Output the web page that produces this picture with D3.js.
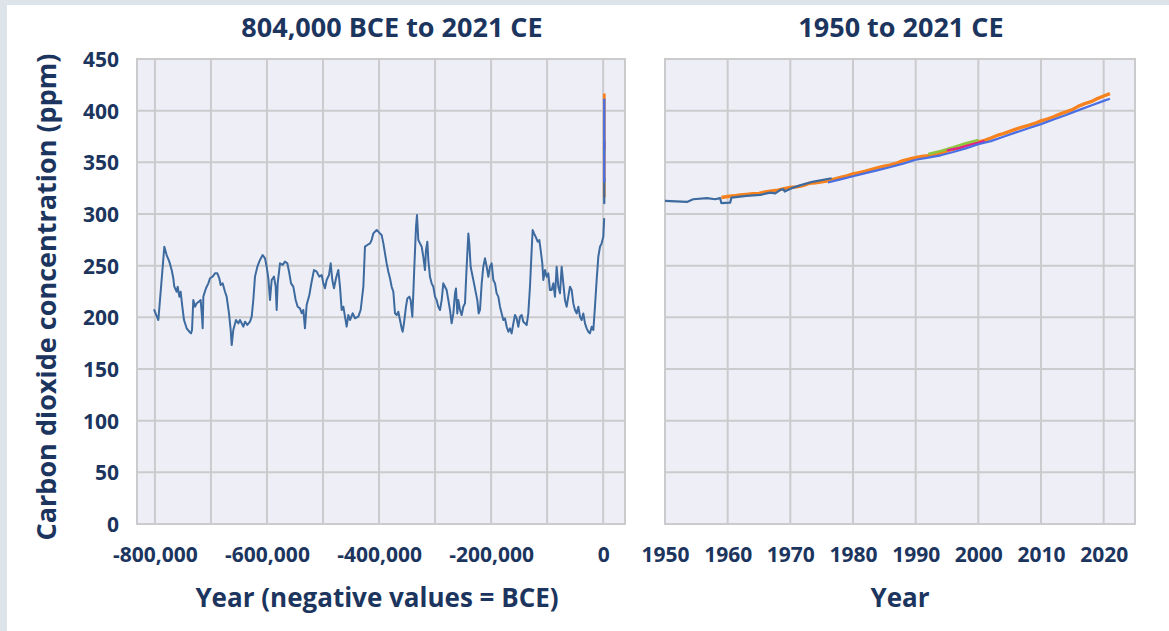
<!DOCTYPE html>
<html>
<head>
<meta charset="utf-8">
<script src="https://cdn.jsdelivr.net/npm/d3@7"></script>
<style>
  body { margin: 0; background: #dde4e9; }
  svg text { font-family: "Open Sans", sans-serif; font-weight: 700; fill: #1c355e; }
</style>
</head>
<body>
<svg id="chart" width="1169" height="631"></svg>
<script>
// ice core record, 804,000 BCE to pre-industrial (years, ppm)
var iceYears = [
  -801700, -793900, -783200, -779100, -774300, -770100, -767200, -765400, -761200, -759400,
  -756400, -754100, -751100, -748100, -743400, -738600, -735600, -733800, -731500, -728500,
  -725500, -721300, -718400, -716000, -714800, -713600, -708900, -704700, -701700, -697000,
  -692800, -688600, -685100, -682700, -679100, -674900, -672000, -667800, -664800, -663000,
  -660100, -655300, -651100, -648200, -642200, -639200, -635100, -630300, -627300, -624400,
  -621400, -617200, -612500, -607700, -603500, -600600, -597600, -594600, -591600, -587500,
  -584500, -582700, -580900, -576800, -572000, -567900, -563700, -560100, -557100, -553000,
  -548800, -545200, -541100, -538100, -535100, -532200, -529200, -524400, -520300, -516100,
  -511300, -506600, -502400, -499400, -496500, -493500, -489300, -486300, -483400, -480400,
  -476800, -472700, -469700, -466700, -463700, -460800, -457800, -454800, -451800, -447100,
  -442900, -437000, -432800, -428000, -425100, -420900, -416100,
  -413200, -410200, -407200, -404200, -401300, -398300, -395300, -392300, -389400, -386400,
  -383400, -380400, -377500, -374500, -371500, -368500, -365600, -362600, -359600, -357800,
  -355500, -351900, -349500, -345900, -343600, -340600, -338800, -337000, -334000, -332300,
  -329900, -326900, -323900, -321000, -318000, -316200, -313800, -312000, -309100, -306100,
  -303100, -300100, -297200, -294200, -291200, -288200, -285300, -282300, -279300, -276300,
  -273400, -270400, -267400, -264400, -262700, -260300, -258500, -255500, -252500, -249600,
  -246600, -243600, -240600, -238900, -236500, -232900, -230500, -227000, -224600, -222200,
  -219800, -216800, -213900, -210900, -207900, -204900, -202000, -199000, -196000, -193000,
  -190100, -187100, -184100, -181100, -178200, -175200, -172200, -169200, -166300, -163300,
  -160300, -157300, -154400, -151400, -148400, -145400, -142500, -139500, -136500, -133600,
  -130600, -127600, -125800, -123400, -120500, -116900, -113900, -111500, -108600, -106800,
  -103800, -100800, -97900, -94900, -91900, -88900, -86000, -83000, -80000, -77000,
  -74100, -71100, -68100, -65100, -62200, -59200, -56200, -53200, -50300, -47300,
  -44300, -41300, -38400, -35400, -32400, -29400, -26500, -23500, -20500, -17500,
  -14600, -11600, -8600, -5600, -2700, 300, 1900];
var icePpm = [
  207.8, 197.4, 268.4, 260.3, 253.9, 245.8, 237.8, 229.7, 224.8, 229.7,
  220.0, 224.8, 210.3, 197.4, 189.4, 186.1, 184.5, 187.8, 216.8, 210.3,
  213.6, 215.2, 216.8, 200.7, 189.4, 220.0, 228.1, 232.9, 237.8, 239.4,
  242.6, 242.6, 237.8, 231.3, 232.9, 224.8, 220.0, 203.9, 187.8, 173.2,
  187.8, 197.4, 194.2, 197.4, 191.0, 195.8, 192.6, 195.8, 200.7, 216.8,
  239.4, 249.0, 255.5, 260.3, 257.1, 249.0, 237.8, 216.8, 236.1, 239.4,
  229.7, 207.1, 232.9, 252.3, 250.7, 253.9, 252.3, 242.6, 232.9, 229.7,
  216.8, 210.3, 208.7, 203.9, 207.1, 189.4, 211.9, 221.6, 234.5, 245.8,
  244.2, 239.4, 241.0, 232.9, 228.1, 236.1, 241.0, 252.3, 236.1, 228.1,
  237.8, 245.8, 229.7, 207.1, 210.3, 200.7, 191.0, 202.3, 197.4, 203.9,
  199.1, 200.7, 207.1, 229.7, 268.4, 270.0, 271.6,
  274.8, 281.2, 282.9, 284.5, 282.9, 281.2, 279.6, 271.6, 261.9, 252.2,
  244.1, 237.7, 229.6, 224.8, 203.8, 202.2, 205.4, 197.4, 189.3, 186.1,
  194.2, 210.3, 218.3, 220.0, 216.7, 200.6, 223.2, 249.0, 287.7, 299.0,
  274.8, 271.6, 268.3, 258.7, 245.8, 265.1, 273.2, 255.4, 239.3, 232.9,
  229.6, 220.0, 216.7, 210.3, 207.1, 216.7, 232.9, 229.6, 226.4, 216.7,
  207.1, 194.2, 203.8, 223.2, 228.0, 203.8, 216.7, 207.1, 202.2, 210.3,
  213.5, 249.0, 281.2, 271.6, 249.0, 239.3, 232.9, 223.2, 216.7, 203.8,
  207.1, 232.9, 249.0, 257.1, 249.0, 239.3, 249.0, 252.2, 236.1, 232.9,
  223.2, 220.0, 210.3, 203.8, 197.4, 199.0, 190.9, 186.1, 189.3, 184.5,
  194.2, 202.2, 199.0, 190.9, 200.6, 202.2, 195.8, 194.2, 192.5, 203.8,
  229.6, 265.1, 284.5, 281.2, 278.0, 273.2, 274.8, 265.1, 252.2, 236.1,
  245.8, 239.3, 242.5, 226.4, 226.4, 232.9, 220.0, 249.0, 229.6, 223.2,
  249.0, 232.9, 216.7, 210.3, 220.0, 229.6, 226.4, 213.5, 207.1, 203.8,
  210.3, 200.6, 197.4, 203.8, 194.2, 189.3, 186.1, 184.5, 190.9, 187.7,
  210.3, 236.1, 258.7, 268.3, 271.6, 278.0, 296.0];

// recent ice core (steel blue), 1950 onwards
var lawDomeYears = [1950, 1953.5, 1954.5, 1956.7, 1958, 1958.8, 1959, 1960.4, 1960.6, 1963,
  1965.2, 1966.8, 1967.6, 1968.4, 1968.9, 1969.1, 1970.2, 1971.8, 1973.7, 1976.6];
var lawDomePpm = [312.7, 311.7, 314.3, 315.3, 314.3, 315.3, 310.5, 311, 315.9, 317.5,
  318.5, 320.7, 320, 323.3, 324, 321.7, 325, 328.2, 331.4, 334.6];

// direct measurements (orange)
var orangeYears = d3.range(1959, 2022);
var orangePpm = [316.0, 316.9, 317.6, 318.5, 319.0, 319.6, 320.0, 321.4, 322.2, 323.1,
  324.6, 325.7, 326.3, 327.5, 329.7, 330.2, 331.1, 332.0, 333.8, 335.4,
  336.8, 338.8, 340.1, 341.5, 343.2, 344.9, 346.4, 347.6, 349.3, 351.7,
  353.2, 354.5, 355.7, 356.5, 357.2, 359.0, 361.0, 362.7, 363.9, 366.8,
  368.5, 369.7, 371.3, 373.5, 376.0, 377.7, 380.0, 382.1, 384.0, 385.8,
  387.6, 390.1, 391.9, 394.1, 396.7, 398.8, 401.0, 404.4, 406.8, 408.7,
  411.7, 414.2, 416.5];

// direct measurements (blue)
var blueYears = [1976, 1978, 1980, 1982, 1984, 1986, 1988, 1990, 1992, 1994,
  1996, 1998, 2000, 2002, 2004, 2006, 2008, 2010, 2012, 2014, 2016, 2018, 2020, 2021];
var bluePpm = [330.5, 333.5, 336.5, 339.5, 342.5, 345.5, 348.8, 352.5, 354.5, 356.8,
  360.0, 363.5, 367.5, 370.5, 374.8, 379.0, 383.0, 387.0, 391.5, 395.8, 400.5, 405.0, 409.5, 411.5];

// direct measurements (green, pink)
var greenYears = [1992, 1994, 1996, 1998, 2000];
var greenPpm = [358, 361, 364.5, 368.5, 371.5];
var pinkYears = [1995, 1997, 1999, 2001];
var pinkPpm = [361.5, 364, 367.5, 370.5];

var yTicks = [0, 50, 100, 150, 200, 250, 300, 350, 400, 450];
var leftTicks = [-800000, -600000, -400000, -200000, 0];
var rightTicks = [1950, 1960, 1970, 1980, 1990, 2000, 2010, 2020];

var svg = d3.select("#chart");
svg.append("rect").attr("x", 7).attr("y", 5).attr("width", 1162).attr("height", 626).attr("fill", "#ffffff");

var y = d3.scaleLinear().domain([0, 450]).range([524, 59]);
var xL = d3.scaleLinear().domain([-832000, 39000]).range([137, 625]);
var xR = d3.scaleLinear().domain([1950, 2025]).range([665, 1135]);

var fmt = d3.formatLocale({decimal: ".", thousands: ",", grouping: [3], currency: ["", ""], minus: "-"}).format(",");

function zip(xs, ys) { return xs.map(function(d, i) { return [d, ys[i]]; }); }

function panel(x, gridTicks) {
  var g = svg.append("g");
  var r = x.range();
  g.append("rect").attr("x", r[0]).attr("y", y(450)).attr("width", r[1] - r[0]).attr("height", y(0) - y(450))
    .attr("fill", "#eeeef6");
  g.selectAll("line.v").data(gridTicks).join("line")
    .attr("x1", function(d) { return x(d); }).attr("x2", function(d) { return x(d); })
    .attr("y1", y(450)).attr("y2", y(0)).attr("stroke", "#cbcbcd").attr("stroke-width", 2);
  g.selectAll("line.h").data(yTicks).join("line")
    .attr("x1", r[0]).attr("x2", r[1])
    .attr("y1", function(d) { return y(d); }).attr("y2", function(d) { return y(d); })
    .attr("stroke", "#cbcbcd").attr("stroke-width", 2);
  g.append("rect").attr("x", r[0]).attr("y", y(450)).attr("width", r[1] - r[0]).attr("height", y(0) - y(450))
    .attr("fill", "none").attr("stroke", "#cbcbcd").attr("stroke-width", 2);
  return g;
}

var left = panel(xL, d3.range(-800000, 1, 100000));
var right = panel(xR, d3.range(1960, 2021, 10));

function drawLines(g, x, wide) {
  var line = d3.line().x(function(d) { return x(d[0]); }).y(function(d) { return y(d[1]); });
  var series = [
    {d: zip(orangeYears, orangePpm), c: "#f5821f", w: wide ? 3.4 : 2.8},
    {d: zip(greenYears, greenPpm), c: "#8dc63f", w: 2.6},
    {d: zip(pinkYears, pinkPpm), c: "#e0218a", w: 2.2},
    {d: zip(iceYears, icePpm), c: "#3d6a9f", w: 2},
    {d: zip(lawDomeYears, lawDomePpm), c: "#3d6a9f", w: 2.2},
    {d: zip(blueYears, bluePpm), c: "#4a6fe3", w: wide ? 2.2 : 2.4}
  ];
  series.forEach(function(s) {
    var pts = s.d.filter(function(p) { return p[0] >= x.domain()[0] && p[0] <= x.domain()[1]; });
    g.append("path").datum(pts).attr("d", line).attr("fill", "none")
      .attr("stroke", s.c).attr("stroke-width", s.w).attr("stroke-linejoin", "round");
  });
}
drawLines(left, xL, false);
drawLines(right, xR, true);

// axes
var yAxis = svg.append("g").attr("transform", "translate(119,0)")
  .call(d3.axisLeft(y).tickValues(yTicks).tickSize(0).tickPadding(0));
var xAxisL = svg.append("g").attr("transform", "translate(0,547)")
  .call(d3.axisBottom(xL).tickValues(leftTicks).tickFormat(fmt).tickSize(0).tickPadding(0));
var xAxisR = svg.append("g").attr("transform", "translate(0,547)")
  .call(d3.axisBottom(xR).tickValues(rightTicks).tickFormat(d3.format("d")).tickSize(0).tickPadding(0));
[yAxis, xAxisL, xAxisR].forEach(function(a) {
  a.select(".domain").remove();
  a.selectAll("text").attr("font-size", 21).attr("fill", "#1c355e").style("font-family", "Open Sans").style("font-weight", 700);
});
yAxis.selectAll("text").attr("dy", "0.35em");

svg.append("text").attr("x", 392).attr("y", 37).attr("text-anchor", "middle").attr("font-size", 27)
  .text("804,000 BCE to 2021 CE");
svg.append("text").attr("x", 901).attr("y", 37).attr("text-anchor", "middle").attr("font-size", 27)
  .text("1950 to 2021 CE");
svg.append("text").attr("x", 377).attr("y", 607).attr("text-anchor", "middle").attr("font-size", 26)
  .text("Year (negative values = BCE)");
svg.append("text").attr("x", 900).attr("y", 607).attr("text-anchor", "middle").attr("font-size", 26)
  .text("Year");
svg.append("text").attr("transform", "translate(56,297) rotate(-90)").attr("text-anchor", "middle").attr("font-size", 27)
  .text("Carbon dioxide concentration (ppm)");
</script>
</body>
</html>
